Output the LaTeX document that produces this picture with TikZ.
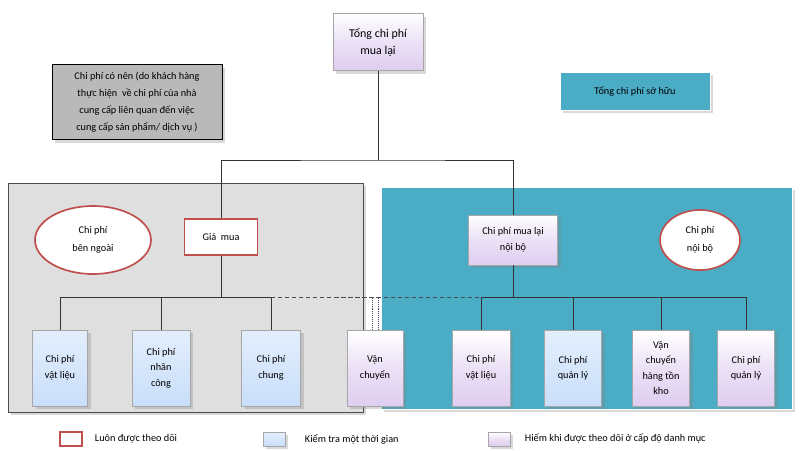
\documentclass[tikz,border=0pt]{standalone}
\usepackage{fontspec}
\setmainfont{Carlito}
\usetikzlibrary{shapes.geometric, shadows}

\definecolor{lilac}{RGB}{222,205,240}
\definecolor{skyfill}{RGB}{200,222,250}
\definecolor{tealbg}{RGB}{75,172,198}
\definecolor{brick}{RGB}{192,80,77}

\tikzset{
    box/.style = {draw=gray!70, minimum height=76*0.025cm, align=center, inner sep=1pt,
                  font=\fontsize{7.3}{11}\selectfont, drop shadow={opacity=0.3}},
    purplebox/.style = {box, top color=white, bottom color=lilac, middle color=lilac!60},
    bluebox/.style = {box, top color=skyfill!50, bottom color=skyfill},
    redbox/.style = {draw=brick, line width=1.2pt, fill=white, align=center,
                     font=\fontsize{7.3}{10}\selectfont},
    oval/.style = {ellipse, draw=brick, line width=1.2pt, fill=white, align=center,
                   font=\fontsize{7.3}{13}\selectfont},
    link/.style = {draw=black!80, thin}
}

\begin{document}
\begin{tikzpicture}%
            [x=0.025cm, y=-0.025cm]
            \useasboundingbox (0,0) rectangle (800,450);

            % panels
            \fill[gray!25, draw=gray!60!black, drop shadow={opacity=0.3}] (8,183) rectangle (363,412);
            \fill[tealbg, draw=white, drop shadow={opacity=0.3}] (381,187) rectangle (792,409);

            % top
            \node [purplebox, minimum width=90*0.025cm, minimum height=57*0.025cm,
                   font=\fontsize{8.5}{12}\selectfont] (total) at (378,42) {Tổng chi phí\\mua lại};
            \node [box, fill=gray!55, draw=black, minimum width=170*0.025cm, minimum height=75*0.025cm,
                   font=\fontsize{7.3}{12}\selectfont] (note) at (137,102)
                  {Chi phí có nên (do khách hàng\\thực hiện \ về chi phí của nhà\\cung cấp liên quan đến việc\\cung cấp sản phẩm/ dịch vụ )};
            \node [box, fill=tealbg, draw=white, minimum width=150*0.025cm, minimum height=38*0.025cm] (own) at (635,91) {Tổng chi phí sở hữu};

            % second level
            \node [redbox, minimum width=73*0.025cm, minimum height=36*0.025cm] (buy) at (221,237) {Giá \ mua};
            \node [purplebox, minimum width=89*0.025cm, minimum height=50*0.025cm] (inner) at (513,240) {Chi phí mua lại\\nội bộ};
            \node [oval, minimum width=116*0.025cm, minimum height=68*0.025cm] (ext) at (93,240) {Chi phí\\bên ngoài};
            \node [oval, minimum width=80*0.025cm, minimum height=60*0.025cm] (int) at (700,240) {Chi phí\\nội bộ};

            % children
            \node [bluebox, minimum width=55*0.025cm] (mat) at (60,368) {Chi phí\\vật liệu};
            \node [bluebox, minimum width=58*0.025cm] (lab) at (161,368) {Chi phí\\nhân\\công};
            \node [bluebox, minimum width=59*0.025cm] (gen) at (271,368) {Chi phí\\chung};
            \node [purplebox, minimum width=56*0.025cm] (ship) at (375,368) {Vận\\chuyển};
            \node [purplebox, minimum width=58*0.025cm] (imat) at (481,368) {Chi phí\\vật liệu};
            \node [bluebox, minimum width=57*0.025cm] (iman) at (573,368) {Chi phí\\quản lý};
            \node [purplebox, minimum width=57*0.025cm] (stock) at (661,368) {Vận\\chuyển\\hàng tồn\\kho};
            \node [purplebox, minimum width=57*0.025cm] (iman2) at (746,368) {Chi phí\\quản lý};

            % connectors
            \coordinate (split) at (378,160);
            \draw [link] (total) -- (split);
            \draw [link] (buy.north) |- (split) -| (inner.north);
            \coordinate (lbar) at (221,297);
            \coordinate (rbar) at (513,297);
            \draw [link] (buy) -- (lbar);
            \draw [link] (inner) -- (rbar);
            \foreach \c in {mat,lab,gen} \draw [link] (\c.north) |- (lbar);
            \foreach \c in {imat,iman,stock,iman2} \draw [link] (\c.north) |- (rbar);
            \draw [densely dashed, black!70] (gen.north |- lbar) -- (imat.north |- rbar);
            \draw [densely dotted, black!70] ([xshift=-2pt]ship.north) -- ++(0,-33);
            \draw [densely dotted, black!70] ([xshift=2pt]ship.north) -- ++(0,-33);

            % legend
            \node [redbox, minimum width=22*0.025cm, minimum height=14*0.025cm, inner sep=0pt] (lg1) at (71,439) {};
            \node [anchor=west, font=\fontsize{7.3}{8}\selectfont] at (90,439) {Luôn được theo dõi};
            \node [bluebox, minimum width=22*0.025cm, minimum height=14*0.025cm, inner sep=0pt] (lg2) at (274,439) {};
            \node [anchor=west, font=\fontsize{7.3}{8}\selectfont] at (300,439) {Kiểm tra một thời gian};
            \node [purplebox, minimum width=22*0.025cm, minimum height=14*0.025cm, inner sep=0pt] (lg3) at (499,439) {};
            \node [anchor=west, font=\fontsize{7.3}{8}\selectfont] at (520,439) {Hiếm khi được theo dõi ở cấp độ danh mục};
\end{tikzpicture}
\end{document}
